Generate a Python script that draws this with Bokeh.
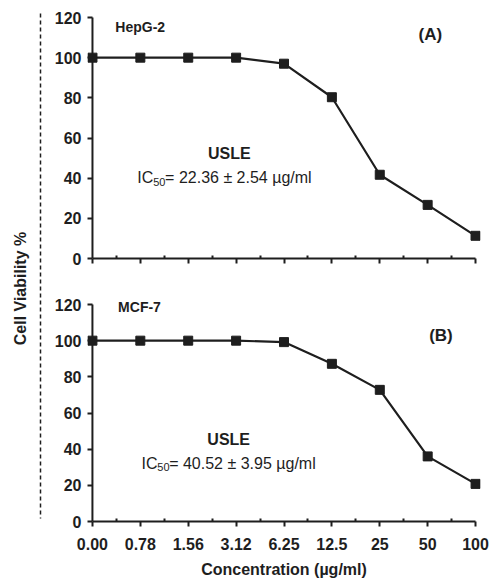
import math
from bokeh.plotting import figure
from bokeh.models import Range1d, FixedTicker, Label
from bokeh.layouts import row, column
from bokeh.embed import file_html
from bokeh.resources import INLINE

# ---- data ----
conc_labels = ["0.00", "0.78", "1.56", "3.12", "6.25", "12.5", "25", "50", "100"]
hepg2_viability = [100, 100, 100, 100, 97.0, 80.3, 41.7, 26.7, 11.3]
mcf7_viability = [100, 100, 100, 100, 99.2, 87.2, 72.8, 36.0, 20.8]
y_ticks = [0, 20, 40, 60, 80, 100, 120]

FONT = "Liberation Sans"
INK = "#1e1e1e"
PANEL_W = 450


def panel(values, height, unit_px, border_left, y_top_extra, top, bottom, show_labels):
    n = len(conc_labels)
    pad = 5 / unit_px
    frame_w = int(round((n - 1) * unit_px + 10))
    p = figure(width=PANEL_W, height=height,
               x_range=Range1d(-pad, (n - 1) + pad),
               y_range=Range1d(0, 120 + y_top_extra),
               output_backend="svg", toolbar_location=None,
               min_border_left=border_left,
               min_border_right=PANEL_W - border_left - frame_w,
               min_border_top=top, min_border_bottom=bottom)
    p.grid.visible = False
    p.outline_line_color = None
    p.background_fill_color = "white"
    p.border_fill_color = "white"

    xs = list(range(n))
    # y-axis line drawn at x = 0
    p.segment(x0=[0], y0=[0], x1=[0], y1=[120], line_width=2, color=INK)
    p.line(xs, values, line_width=2.2, color=INK)
    p.scatter(xs, values, marker="square", size=9, color=INK)

    xa = p.xaxis[0]
    xa.ticker = FixedTicker(ticks=xs, minor_ticks=[i + 0.5 for i in xs[:-1]])
    xa.bounds = (0, n - 1)
    xa.axis_line_width = 2
    xa.axis_line_color = INK
    xa.major_tick_line_width = 2
    xa.major_tick_line_color = INK
    xa.major_tick_out = 5
    xa.major_tick_in = 0
    xa.minor_tick_line_width = 2
    xa.minor_tick_line_color = INK
    xa.minor_tick_in = 3
    xa.minor_tick_out = 0
    if show_labels:
        xa.major_label_overrides = {i: lab for i, lab in enumerate(conc_labels)}
        xa.major_label_text_font = FONT
        xa.major_label_text_font_size = "16px"
        xa.major_label_text_font_style = "bold"
        xa.major_label_text_color = INK
        xa.major_label_standoff = 11
        xa.axis_label = "Concentration (\u00b5g/ml)"
        xa.axis_label_text_font = FONT
        xa.axis_label_text_font_size = "16px"
        xa.axis_label_text_font_style = "bold"
        xa.axis_label_text_color = INK
        xa.axis_label_standoff = 8
    else:
        xa.major_label_overrides = {i: "" for i in xs}

    ya = p.yaxis[0]
    ya.ticker = FixedTicker(ticks=y_ticks)
    ya.bounds = (0, 120)
    ya.axis_line_color = None
    ya.major_tick_line_width = 2
    ya.major_tick_line_color = INK
    ya.major_tick_out = 0
    ya.major_tick_in = 5
    ya.minor_tick_line_color = None
    ya.major_label_text_font = FONT
    ya.major_label_text_font_size = "16px"
    ya.major_label_text_font_style = "bold"
    ya.major_label_text_color = INK
    ya.major_label_standoff = 6
    return p


def lab(p, x, y, text, size, bold=True, align="left", baseline="middle"):
    p.add_layout(Label(x=x, y=y, text=text, text_font=FONT,
                       text_font_size=size,
                       text_font_style="bold" if bold else "normal",
                       text_align=align, text_baseline=baseline,
                       text_color=INK))


def ic50(p, x, y, unit_px, sub_dy, rest):
    lab(p, x, y, "IC", "16px", bold=False, baseline="alphabetic")
    lab(p, x + 16 / unit_px, y - sub_dy, "50", "11px", bold=False, baseline="alphabetic")
    lab(p, x + 28 / unit_px, y, rest, "16px", bold=False, baseline="alphabetic")


# top panel: y axis at x=90px, 48.125 px per category; y: 120 -> 17px, 0 -> 258px
top = panel(hepg2_viability, 283, 48.125, 41, 8 / 2.008, 9, 25, False)
lab(top, 0.478, 115.5, "HepG-2", "14px")
lab(top, 7.055, 111.5, "(A)", "17px", align="center")
lab(top, 2.857, 52.3, "USLE", "16px", align="center")
ic50(top, 0.935, 40.3, 48.125, 2.0, "= 22.36 \u00b1 2.54 \u00b5g/ml")

# bottom panel: y axis at x=92px, 48.5 px per category; y: 120 -> 304px, 0 -> 521px
bot = panel(mcf7_viability, 297, 48.5, 43, 14 / 1.808, 7, 59, True)
lab(bot, 0.536, 118.4, "MCF-7", "14px")
lab(bot, 7.278, 102.9, "(B)", "17px", align="center")
lab(bot, 2.845, 45.4, "USLE", "16px", align="center")
ic50(bot, 1.025, 32.1, 48.5, 2.2, "= 40.52 \u00b1 3.95 \u00b5g/ml")

left = figure(width=44, height=580, x_range=Range1d(0, 44), y_range=Range1d(580, 0),
              output_backend="svg", toolbar_location=None, min_border=0,
              x_axis_location=None, y_axis_location=None)
left.grid.visible = False
left.outline_line_color = None
left.segment(x0=[40], y0=[13], x1=[40], y1=[518], line_dash="4 3",
             line_width=1.5, color=INK)
left.add_layout(Label(x=20, y=288, text="Cell Viability %", angle=math.pi / 2,
                      text_align="center", text_baseline="middle",
                      text_font=FONT, text_font_size="16px",
                      text_font_style="bold", text_color=INK))

layout = row(left, column(top, bot))
open("out.html", "w").write(file_html(layout, INLINE))
